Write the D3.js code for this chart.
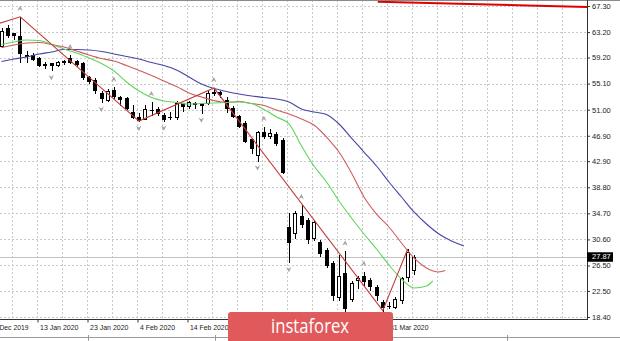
<!DOCTYPE html>
<html>
<head>
<meta charset="utf-8">
<script src="https://cdnjs.cloudflare.com/ajax/libs/d3/7.8.5/d3.min.js"></script>
<style>
  body { margin: 0; background: #fff; }
  svg { display: block; }
</style>
</head>
<body>
<div id="chart"></div>
<script>
// daily candles, bar 0 = 3 Jan 2020
const opens  = [61.0, 63.8, 63.0, 62.6, 59.6, 59.6, 59.1, 58.1, 58.3, 58.0, 58.6, 59.2, 58.6, 58.3, 56.1, 55.7, 53.6, 52.5, 54.1, 53.0,
                52.8, 50.6, 49.9, 49.5, 50.9, 51.1, 50.2, 49.8, 49.85, 52.05, 51.6, 52.1, 52.05, 52.05, 53.6, 53.8, 52.5, 51.3, 50.0, 48.9,
                46.4, 43.9, 47.5, 46.9, 47.2, 46.2, 32.55, 31.6, 34.3, 33.6, 30.8, 30.2, 28.9, 26.9, 21.6, 25.3, 21.2, 24.2, 24.85, 24.2,
                23.1, 20.8, 20.1, 20.0, 21.1, 24.7, 25.8];
const highs  = [63.9, 64.3, 63.1, 65.6, 60.2, 59.9, 59.3, 58.5, 58.4, 58.7, 58.8, 59.6, 58.8, 58.5, 56.3, 56.0, 53.9, 54.2, 54.5, 53.1,
                53.0, 51.7, 50.5, 51.7, 52.2, 51.4, 50.5, 50.6, 52.3, 52.1, 52.4, 52.2, 52.1, 53.9, 54.4, 54.0, 53.0, 51.5, 50.2, 49.2,
                46.6, 47.7, 48.3, 47.9, 47.5, 46.5, 34.75, 35.0, 36.0, 33.9, 33.6, 30.5, 29.2, 27.2, 28.1, 28.7, 24.1, 24.9, 25.5, 24.5,
                23.4, 21.1, 20.7, 21.5, 24.7, 29.1, 28.2];
const lows   = [60.8, 62.4, 62.1, 58.5, 58.5, 58.8, 57.9, 57.6, 57.2, 57.9, 58.2, 58.3, 57.9, 55.9, 55.2, 53.6, 52.2, 52.3, 52.9, 51.7,
                51.1, 49.7, 49.2, 49.5, 50.2, 50.2, 49.25, 49.6, 49.6, 50.8, 51.3, 51.2, 50.5, 51.9, 53.3, 53.0, 50.7, 49.9, 48.2, 45.9,
                44.2, 43.0, 46.6, 46.6, 45.5, 41.0, 27.0, 30.9, 32.5, 30.1, 30.5, 28.0, 26.2, 21.1, 21.1, 19.3, 20.9, 23.0, 23.4, 22.6,
                21.1, 19.4, 19.8, 19.8, 20.6, 24.0, 25.2];
const closes = [63.4, 62.7, 62.8, 59.9, 59.5, 59.0, 58.0, 58.15, 58.0, 58.5, 58.45, 58.5, 58.2, 56.1, 55.5, 54.1, 52.8, 54.0, 53.15, 52.6,
                51.3, 49.9, 49.4, 51.1, 51.0, 50.5, 49.5, 49.9, 52.05, 51.5, 52.2, 51.9, 51.7, 53.6, 53.8, 53.5, 51.3, 50.0, 48.4, 46.1,
                45.0, 47.5, 46.9, 47.3, 45.8, 41.2, 30.2, 34.75, 33.0, 30.7, 33.3, 28.5, 26.6, 21.9, 24.8, 19.8, 23.75, 24.5, 24.06, 23.3,
                21.9, 20.0, 20.2, 21.2, 24.5, 28.6, 27.87];

// alligator lines (jaw / teeth / lips)
const jawBars = d3.range(0, 75, 2);
const jaw = [58.57, 58.97, 59.28, 59.75, 60.07, 60.46, 60.46, 60.38, 60.15, 59.75, 59.36, 58.97, 58.42, 57.94, 57.24, 56.14,
             55.04, 54.33, 53.86, 53.46, 53.15, 52.91, 52.68, 52.21, 51.10, 50.63, 50.24, 48.75, 46.54, 44.34, 42.14, 39.63,
             37.27, 34.91, 33.02, 31.45, 30.35, 29.56];
const teethBars = d3.range(0, 71, 2).concat([71]);
const teeth = [60.77, 61.17, 61.48, 61.56, 61.25, 60.85, 60.22, 59.59, 59.04, 58.65, 57.94, 57.16, 56.37, 55.51, 54.64, 53.62,
               52.99, 52.44, 52.13, 52.28, 51.97, 51.65, 50.95, 50.32, 49.53, 48.59, 46.70, 44.34, 41.04, 37.27, 34.59, 32.55,
               30.04, 27.68, 26.10, 25.48, 25.71];
const lipsBars = d3.range(0, 69, 2).concat([69]);
const lips = [61.25, 61.64, 61.95, 61.87, 61.25, 60.54, 59.91, 59.12, 58.26, 57.08, 55.35, 53.93, 52.91, 52.36, 52.13, 51.89,
              51.97, 52.05, 52.13, 52.21, 51.97, 51.03, 49.85, 48.75, 45.29, 42.14, 39.63, 36.64, 33.97, 31.45, 29.09, 26.58,
              24.37, 22.96, 23.27, 24.06];

// zigzag turning points
const zzBars = [-8, 3, 22, 34, 61, 65];
const zzPrices = [62.2, 65.6, 49.2, 54.4, 19.4, 29.1];

// fractals
const fractalUp = [3, 11, 18, 24, 34, 42, 48, 55, 58];
const fractalDown = [8, 16, 22, 26, 32, 41, 46, 61];

// red trend line at the top
const trendBars = [60.2, 94];
const trendPrices = [67.98, 67.12];

const lastPrice = 27.87;
const priceTicks = [18.40, 22.50, 26.50, 30.60, 34.70, 38.80, 42.90, 46.90, 51.00, 55.10, 59.20, 63.20, 67.30];
// labels under the logo are hidden in the original, so only the visible ones are kept
const dateBars = [-2, 6, 14, 22, 30, 62];
const dateLabels = ["31 Dec 2019", "13 Jan 2020", "23 Jan 2020", "4 Feb 2020", "14 Feb 2020", "31 Mar 2020"];

const width = 620, height = 341;
const plotRight = 587, plotBottom = 320;
const font = "'Liberation Sans', Arial, sans-serif";

const svg = d3.select("#chart").append("svg")
  .attr("width", width)
  .attr("height", height);

const x = d3.scaleLinear().domain([0, 93.84]).range([1.5, 588]);
const y = d3.scaleLinear().domain([18.4, 67.3]).range([317, 6]);
const crisp = v => Math.round(v) + 0.5;

svg.append("defs").append("clipPath").attr("id", "plot")
  .append("rect").attr("x", 0).attr("y", 0).attr("width", plotRight).attr("height", plotBottom);

// grid
const grid = svg.append("g").attr("stroke", "#c9c9c9").attr("stroke-dasharray", "2,2");
grid.selectAll(".gv").data(d3.range(2, 94, 4).filter(i => x(i) < plotRight))
  .enter().append("line")
  .attr("x1", i => Math.floor(x(i) - 1.3) + 0.5).attr("x2", i => Math.floor(x(i) - 1.3) + 0.5)
  .attr("y1", 0).attr("y2", plotBottom);
grid.selectAll(".gh").data(priceTicks)
  .enter().append("line")
  .attr("x1", 0).attr("x2", plotRight)
  .attr("y1", d => crisp(y(d))).attr("y2", d => crisp(y(d)));

const plot = svg.append("g").attr("clip-path", "url(#plot)");

// last price line
plot.append("line")
  .attr("x1", 0).attr("x2", plotRight)
  .attr("y1", crisp(y(lastPrice))).attr("y2", crisp(y(lastPrice)))
  .attr("stroke", "#c4c4c4");

// candles
const bars = d3.range(opens.length);
const candles = plot.append("g");
bars.forEach(i => {
  const c = Math.round(x(i));
  candles.append("line")
    .attr("x1", c + 0.5).attr("x2", c + 0.5)
    .attr("y1", Math.round(y(highs[i]))).attr("y2", Math.round(y(lows[i])) + 1)
    .attr("stroke", "#000");
  const top = Math.round(y(Math.max(opens[i], closes[i]))) + 0.5;
  const bot = Math.round(y(Math.min(opens[i], closes[i]))) + 0.5;
  const up = closes[i] >= opens[i];
  if (bot - top < 1) {
    candles.append("line")
      .attr("x1", c - 2).attr("x2", c + 2)
      .attr("y1", top).attr("y2", top)
      .attr("stroke", "#000");
  } else {
    candles.append("rect")
      .attr("x", c - 1.5).attr("y", top)
      .attr("width", 3).attr("height", bot - top)
      .attr("fill", up ? "#fff" : "#000")
      .attr("stroke", "#000");
  }
});

// alligator
const maLine = d3.line().x(d => x(d[0])).y(d => y(d[1])).curve(d3.curveMonotoneX);
[[jawBars, jaw, "#4545a8"], [teethBars, teeth, "#cf5a5a"], [lipsBars, lips, "#5fd65f"]].forEach(([b, v, col]) => {
  plot.append("path")
    .attr("d", maLine(b.map((bi, k) => [bi, v[k]])))
    .attr("fill", "none")
    .attr("stroke", col)
    .attr("stroke-width", 1.1);
});

// zigzag
plot.append("path")
  .attr("d", d3.line().x(d => x(d[0])).y(d => y(d[1]))(zzBars.map((b, k) => [b, zzPrices[k]])))
  .attr("fill", "none")
  .attr("stroke", "#c23b3b")
  .attr("stroke-width", 1.1);

// fractal arrows
const arrow = (cx, cy, dir) => {
  const s = dir;   // -1 points up, 1 points down
  return `M${cx},${cy + 3 * s} L${cx - 3},${cy - 2 * s} L${cx},${cy - 0.5 * s} L${cx + 2.5},${cy - 2.5 * s} Z`;
};
plot.selectAll(".fu").data(fractalUp).enter().append("path")
  .attr("d", i => arrow(x(i), y(highs[i]) - 8, -1))
  .attr("fill", "#a3a3a3");
plot.selectAll(".fd").data(fractalDown).enter().append("path")
  .attr("d", i => arrow(x(i), y(lows[i]) + 7, 1))
  .attr("fill", "#a3a3a3");

// top trend line
plot.append("path")
  .attr("d", d3.line().x(d => x(d[0])).y(d => y(d[1]))(trendBars.map((b, k) => [b, trendPrices[k]])))
  .attr("stroke", "#e00000")
  .attr("stroke-width", 2)
  .attr("fill", "none");

// frame
svg.append("line").attr("x1", 0).attr("x2", width).attr("y1", 0.5).attr("y2", 0.5).attr("stroke", "#8a8a8a");
svg.append("line").attr("x1", plotRight + 0.5).attr("x2", plotRight + 0.5).attr("y1", 0).attr("y2", plotBottom)
  .attr("stroke", "#333");
svg.append("line").attr("x1", 0).attr("x2", plotRight + 1).attr("y1", plotBottom - 0.5).attr("y2", plotBottom - 0.5)
  .attr("stroke", "#333");

// price axis
const yAxis = svg.append("g")
  .attr("transform", `translate(${plotRight},0)`)
  .call(d3.axisRight(y).tickValues(priceTicks).tickSize(3).tickSizeOuter(0).tickFormat(d3.format(".2f")));
yAxis.select(".domain").remove();
yAxis.selectAll("line").attr("stroke", "#333");
yAxis.selectAll("text").attr("x", 5).style("font-family", font).style("font-size", "7.5px").attr("fill", "#222");

// last price marker
svg.append("rect")
  .attr("x", plotRight).attr("y", y(lastPrice) - 4.5)
  .attr("width", 26).attr("height", 9.5)
  .attr("fill", "#000");
svg.append("text")
  .attr("x", plotRight + 5).attr("y", y(lastPrice))
  .attr("dy", "0.35em")
  .style("font-family", font).style("font-size", "7.5px")
  .attr("fill", "#fff")
  .text(lastPrice.toFixed(2));

// date axis
const xAxis = svg.append("g")
  .attr("transform", `translate(-1.5,${plotBottom - 0.5})`)
  .call(d3.axisBottom(x).tickValues(dateBars).tickSize(3).tickSizeOuter(0).tickFormat((d, k) => dateLabels[k]));
xAxis.select(".domain").remove();
xAxis.selectAll("line").attr("stroke", "#333");
xAxis.selectAll("text")
  .attr("text-anchor", "start")
  .attr("x", 2).attr("y", 5)
  .attr("textLength", (d, k) => dateLabels[k].length * 3.5)
  .attr("lengthAdjust", "spacingAndGlyphs")
  .style("font-family", font).style("font-size", "7.5px")
  .attr("fill", "#222");

// bottom strip
svg.append("line").attr("x1", 0).attr("x2", width).attr("y1", 337.5).attr("y2", 337.5).attr("stroke", "#9a9a9a");
[88, 215, 507].forEach(v => {
  svg.append("line").attr("x1", v + 0.5).attr("x2", v + 0.5).attr("y1", 335).attr("y2", height).attr("stroke", "#9a9a9a");
});

// watermark logo
const logo = svg.append("g");
logo.append("rect")
  .attr("x", 228).attr("y", 312)
  .attr("width", 165).attr("height", 34)
  .attr("rx", 3)
  .attr("fill", "#e05a5b");
logo.append("text")
  .attr("x", 271).attr("y", 332.5)
  .attr("textLength", 78)
  .attr("lengthAdjust", "spacingAndGlyphs")
  .style("font-family", "'Open Sans', 'Noto Sans', sans-serif")
  .style("font-size", "20px")
  .attr("fill", "#fff")
  .text("instaforex");
</script>
</body>
</html>
